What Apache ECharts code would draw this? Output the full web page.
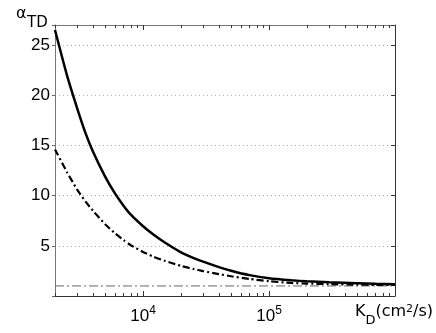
<!DOCTYPE html>
<html>
<head>
<meta charset="utf-8">
<script src="https://cdn.jsdelivr.net/npm/echarts@6/dist/echarts.min.js"></script>
<style>
  html, body { margin: 0; padding: 0; background: #fff; }
  #chart { width: 436px; height: 333px; }
</style>
</head>
<body>
<div id="chart"></div>
<script>
// K_D (cm^2/s) sample points
const kd = [2000, 2500, 3000, 3500, 4000, 5000, 6000, 7000, 8000, 10000, 12000, 15000,
  20000, 25000, 30000, 40000, 50000, 70000, 100000, 150000, 200000, 300000, 500000, 700000, 1000000]
// alpha_TD, solid curve
const alphaSolid = [26.5, 21.9, 18.7, 16.2, 14.4, 11.9, 10.2, 9.0, 8.1, 6.95, 6.15, 5.3,
  4.35, 3.8, 3.42, 2.88, 2.52, 2.08, 1.76, 1.56, 1.46, 1.36, 1.27, 1.22, 1.18]
// alpha_TD, dash-dot curve
const alphaDash = [14.6, 12.3, 10.6, 9.4, 8.5, 7.15, 6.24, 5.57, 5.06, 4.39, 3.94, 3.49,
  3.0, 2.7, 2.48, 2.18, 1.97, 1.7, 1.47, 1.3, 1.24, 1.18, 1.13, 1.11, 1.1]
// reference level
const refK = [2000, 1000000]
const refAlpha = [1, 1]

const majorTicks = [10000, 100000]
const minorTicks = [2000, 3000, 4000, 5000, 6000, 7000, 8000, 9000, 10000,
  20000, 30000, 40000, 50000, 60000, 70000, 80000, 90000, 100000,
  200000, 300000, 400000, 500000, 600000, 700000, 800000, 900000]

const font = 'Liberation Sans, Arial, Helvetica, sans-serif'
const wide = 'DejaVu Sans, sans-serif'
const axisColor = '#333'

const chart = echarts.init(document.getElementById('chart'))

const baseX = {
  type: 'log',
  logBase: 10,
  min: 2000,
  max: 1000000,
  splitLine: { show: false },
  axisLabel: { show: false },
  axisLine: { show: true, lineStyle: { color: axisColor, width: 1 } }
}

const option = {
  animation: false,
  // y axis label: alpha with subscript TD
  title: [
    {
      text: 'α',
      left: 16,
      top: 6,
      padding: 0,
      textStyle: { fontSize: 16, fontWeight: 'normal', fontFamily: wide, color: '#000' }
    },
    {
      text: 'TD',
      left: 27,
      top: 16,
      padding: 0,
      textStyle: { fontSize: 15, fontWeight: 'normal', fontFamily: wide, color: '#000' }
    }
  ],
  grid: { left: 55, right: 41, top: 25, bottom: 37 },
  xAxis: [
    Object.assign({}, baseX, {
      position: 'bottom',
      axisTick: { show: true, inside: true, length: 3, customValues: minorTicks, lineStyle: { color: axisColor } },
      axisLabel: {
        show: true,
        customValues: majorTicks,
        margin: 9,
        fontFamily: font,
        color: '#000',
        formatter: v => '{b|10}{s|' + Math.round(Math.log10(v)) + '}',
        rich: {
          b: { fontSize: 17, fontFamily: font, color: '#000', lineHeight: 20, verticalAlign: 'bottom' },
          s: { fontSize: 12, fontFamily: font, color: '#000', lineHeight: 12, verticalAlign: 'top' }
        }
      },
      name: '{k|K}{d|D}{u|(cm}{s|2}{u|/s)}',
      nameLocation: 'end',
      nameGap: 38,
      nameTextStyle: {
        align: 'right',
        verticalAlign: 'top',
        padding: [8, 0, 0, 0],
        rich: {
          k: { fontSize: 16, fontFamily: wide, color: '#000', lineHeight: 14, verticalAlign: 'top' },
          d: { fontSize: 13, fontFamily: wide, color: '#000', lineHeight: 23, verticalAlign: 'bottom' },
          u: { fontSize: 16, fontFamily: wide, color: '#000', lineHeight: 14, verticalAlign: 'top' },
          s: { fontSize: 11, fontFamily: wide, color: '#000', lineHeight: 8, verticalAlign: 'top' }
        }
      }
    }),
    Object.assign({}, baseX, {
      position: 'bottom',
      axisLine: { show: false },
      axisTick: { show: true, inside: true, length: 5, customValues: majorTicks, lineStyle: { color: axisColor } }
    }),
    Object.assign({}, baseX, {
      position: 'top',
      axisLine: { show: true, lineStyle: { color: '#777', width: 1 } },
      axisTick: { show: true, inside: true, length: 3, customValues: minorTicks, lineStyle: { color: axisColor } }
    }),
    Object.assign({}, baseX, {
      position: 'top',
      axisLine: { show: false },
      axisTick: { show: true, inside: true, length: 5, customValues: majorTicks, lineStyle: { color: axisColor } }
    })
  ],
  yAxis: [
    {
      type: 'value',
      position: 'left',
      min: 0,
      max: 27,
      interval: 5,
      axisLine: { show: true, lineStyle: { color: '#777', width: 1 } },
      axisTick: { show: true, inside: false, length: 3, lineStyle: { color: '#666' } },
      axisLabel: {
        margin: 5,
        fontSize: 17,
        fontFamily: font,
        color: '#000',
        formatter: v => (v > 0 && v % 5 === 0 ? String(v) : '')
      },
      splitLine: { show: true, lineStyle: { color: '#b0b0b0', type: [1, 3], width: 1 } }
    },
    {
      type: 'value',
      position: 'right',
      min: 0,
      max: 27,
      interval: 5,
      axisLine: { show: true, lineStyle: { color: axisColor, width: 1 } },
      axisTick: { show: true, inside: true, length: 4, lineStyle: { color: axisColor } },
      axisLabel: { show: false },
      splitLine: { show: false }
    }
  ],
  series: [
    {
      name: 'ref',
      type: 'line',
      xAxisIndex: 0,
      yAxisIndex: 0,
      symbol: 'none',
      data: refK.map((k, i) => [k, refAlpha[i]]),
      lineStyle: { color: '#666', width: 1, type: [9, 3, 2, 3] },
      z: 1
    },
    {
      name: 'dash',
      type: 'line',
      xAxisIndex: 0,
      yAxisIndex: 0,
      symbol: 'none',
      smooth: 0.2,
      data: kd.map((k, i) => [k, alphaDash[i]]),
      lineStyle: { color: '#000', width: 2.2, type: [7, 3, 2, 3] },
      z: 2
    },
    {
      name: 'solid',
      type: 'line',
      xAxisIndex: 0,
      yAxisIndex: 0,
      symbol: 'none',
      smooth: 0.2,
      data: kd.map((k, i) => [k, alphaSolid[i]]),
      lineStyle: { color: '#000', width: 2.5 },
      z: 3
    }
  ]
}

chart.setOption(option)
</script>
</body>
</html>
